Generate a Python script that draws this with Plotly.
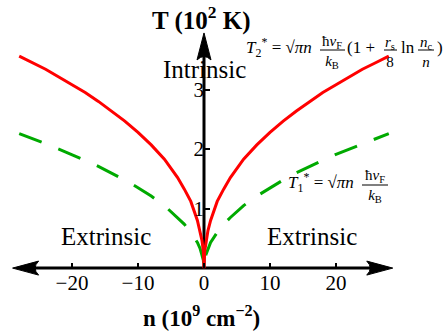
import plotly.graph_objects as go

# ---- data ----
n_vals = [-28, -26, -24, -22, -20, -18, -16, -14, -12, -10, -8, -6, -4, -3, -2, -1, -0.6, -0.3, -0.1,
          0, 0.1, 0.3, 0.6, 1, 2, 3, 4, 6, 8, 10, 12, 14, 16, 18, 20, 22, 24, 26, 28]
T2_vals = [3.56, 3.45, 3.34, 3.21, 3.08, 2.95, 2.80, 2.64, 2.47, 2.28, 2.07, 1.83, 1.52, 1.33, 1.12, 0.80, 0.63, 0.46, 0.28,
           0, 0.28, 0.46, 0.63, 0.80, 1.12, 1.33, 1.52, 1.83, 2.07, 2.28, 2.47, 2.64, 2.80, 2.95, 3.08, 3.21, 3.34, 3.45, 3.56]
T1_vals = [2.26, 2.18, 2.09, 2.00, 1.91, 1.81, 1.71, 1.60, 1.48, 1.35, 1.21, 1.05, 0.85, 0.74, 0.60, 0.43, 0.33, 0.23, 0.135,
           0, 0.135, 0.23, 0.33, 0.43, 0.60, 0.74, 0.85, 1.05, 1.21, 1.35, 1.48, 1.60, 1.71, 1.81, 1.91, 2.00, 2.09, 2.18, 2.26]
x_tickvals = [-20, -10, 0, 10, 20]
x_ticktext = ["\u221220", "\u221210", "0", "10", "20"]
y_tickvals = [1, 2, 3]
y_ticktext = ["1", "2", "3"]

W, H = 447, 331
L, R, TM, B = 6, 45, 27, 51
PW, PH = W - L - R, H - TM - B
XR = [-30, 30]
YR = [-0.2, 4.05]

def px(x):
    return (x - L) / PW

def py(y):
    return (H - B - y) / PH

SERIF = "Liberation Serif"

fig = go.Figure()
fig.add_trace(go.Scatter(x=n_vals, y=T1_vals, mode="lines",
                         line=dict(color="#00aa00", width=3, dash="24px,18px"),
                         hoverinfo="skip", showlegend=False))
fig.add_trace(go.Scatter(x=n_vals, y=T2_vals, mode="lines",
                         line=dict(color="#ff0000", width=3),
                         hoverinfo="skip", showlegend=False))

shapes = []
# axes lines
shapes.append(dict(type="line", xref="x", yref="y", x0=-27, x1=27, y0=0, y1=0,
                   line=dict(color="black", width=3), layer="below"))
shapes.append(dict(type="line", xref="x", yref="y", x0=0, x1=0, y0=0, y1=3.7,
                   line=dict(color="black", width=3), layer="below"))
# arrowheads (pixel sized, anchored at axis ends)
shapes.append(dict(type="path", xref="x", yref="y", xsizemode="pixel", ysizemode="pixel",
                   xanchor=28.6, yanchor=0, path="M0,0 L-26,7 Q-19,0 -26,-7 Z",
                   fillcolor="black", line=dict(color="black", width=1)))
shapes.append(dict(type="path", xref="x", yref="y", xsizemode="pixel", ysizemode="pixel",
                   xanchor=-29.0, yanchor=0, path="M0,0 L26,7 Q19,0 26,-7 Z",
                   fillcolor="black", line=dict(color="black", width=1)))
shapes.append(dict(type="path", xref="x", yref="y", xsizemode="pixel", ysizemode="pixel",
                   xanchor=0, yanchor=3.95, path="M0,0 L-7,-27 Q0,-20 7,-27 Z",
                   fillcolor="black", line=dict(color="black", width=1)))

ann = []
def text(x, y, t, size, xanchor="center"):
    ann.append(dict(xref="paper", yref="paper", x=px(x), y=py(y), text=t, showarrow=False,
                    xanchor=xanchor, yanchor="middle", borderpad=0,
                    font=dict(family=SERIF, size=size, color="black")))

def bar(x0, x1, y):
    shapes.append(dict(type="line", xref="paper", yref="paper", x0=px(x0), x1=px(x1),
                       y0=py(y), y1=py(y), line=dict(color="black", width=1)))

# titles
text(201.5, 19, "<b>T (10<sup>2</sup> K)</b>", 25)
text(201.5, 316, "<b>n (10<sup>9</sup> cm<sup>\u22122</sup>)</b>", 23)
# region labels
text(205, 69, "Intrinsic", 25)
text(106, 236, "Extrinsic", 25)
text(311.7, 236, "Extrinsic", 25)

# formula T2*
FM, FF = 17, 15
text(245, 48, "<i>T</i><sub>2</sub><sup>*</sup> = \u221a<i>\u03c0n</i>", FM, "left")
text(332, 52, "\u0127<i>v</i><sub>F</sub><br><i>k</i><sub>B</sub>", FF)
bar(320, 345, 50)
text(346, 48, "(1 +", FM, "left")
text(390, 52, "<i>r</i><sub>s</sub><br>8", FF)
bar(384, 397, 50)
text(400, 48, "ln", FM, "left")
text(426, 52, "<i>n</i><sub>c</sub><br><i>n</i>", FF)
bar(418, 434, 50)
text(436, 48, ")", FM, "left")

# formula T1*
text(287, 182, "<i>T</i><sub>1</sub><sup>*</sup> = \u221a<i>\u03c0n</i>", FM, "left")
text(375, 186, "\u0127<i>v</i><sub>F</sub><br><i>k</i><sub>B</sub>", FF)
bar(362, 388, 185)

fig.update_layout(
    width=W, height=H,
    margin=dict(l=L, r=R, t=TM, b=B),
    paper_bgcolor="white", plot_bgcolor="white",
    showlegend=False,
    xaxis=dict(range=XR, domain=[0, 1], anchor="free", position=(0 - YR[0]) / (YR[1] - YR[0]),
               showline=False, showgrid=False, zeroline=False,
               tickmode="array", tickvals=x_tickvals, ticktext=x_ticktext,
               ticks="inside", ticklen=5, tickwidth=2, tickcolor="black",
               tickfont=dict(family=SERIF, size=21, color="black")),
    yaxis=dict(range=YR, domain=[0, 1], anchor="free", position=0.5,
               showline=False, showgrid=False, zeroline=False,
               tickmode="array", tickvals=y_tickvals, ticktext=y_ticktext,
               ticks="inside", ticklen=5, tickwidth=2, tickcolor="black",
               tickfont=dict(family=SERIF, size=21, color="black")),
    shapes=shapes, annotations=ann,
)

fig.write_html("out.html", config={"displayModeBar": False},
               post_script="document.body.style.margin='0px';")
